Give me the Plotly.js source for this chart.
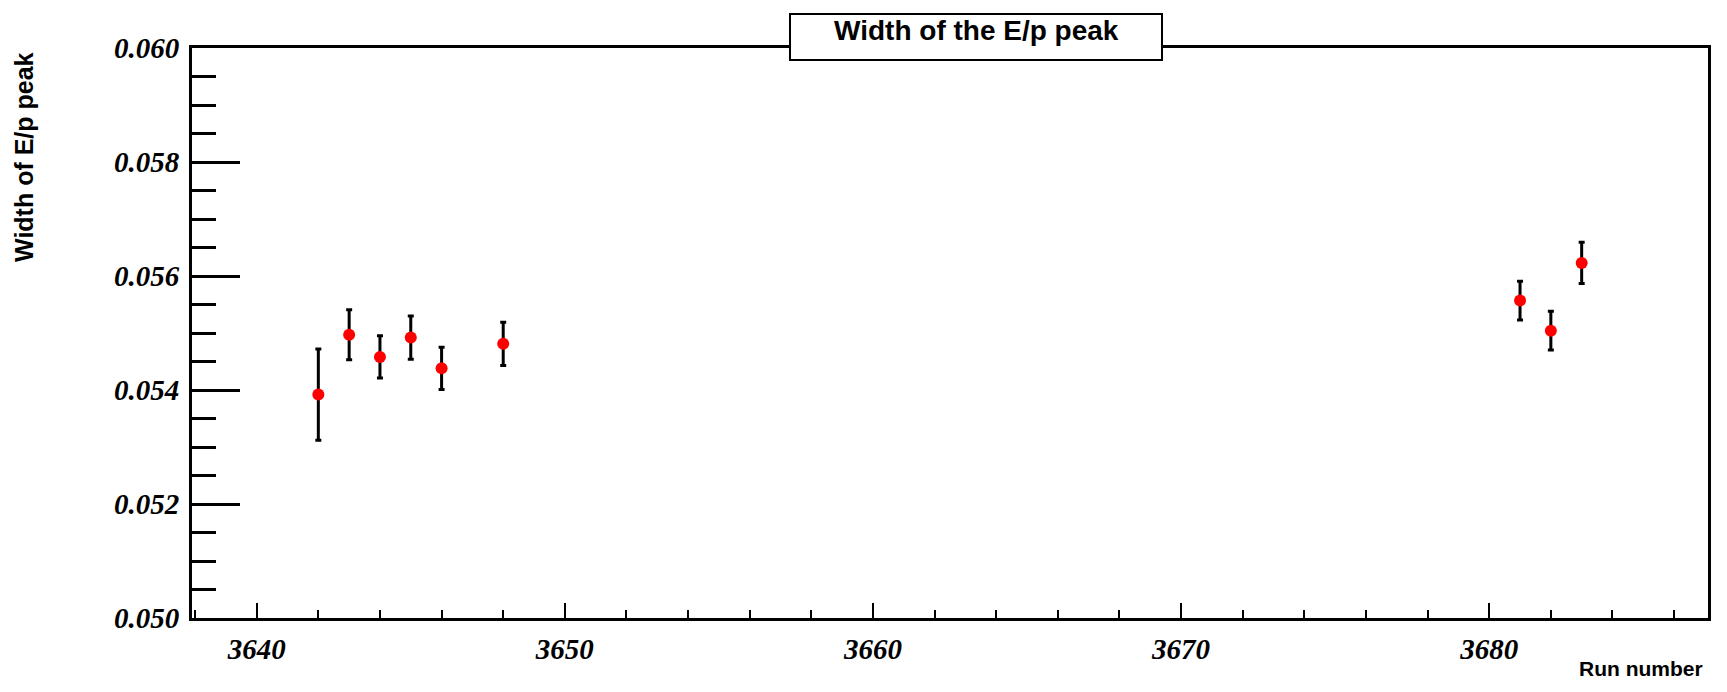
<!DOCTYPE html>
<html>
<head>
<meta charset="utf-8">
<script src="https://cdn.plot.ly/plotly-3.0.1.min.js"></script>
<style>
  html, body { margin: 0; padding: 0; background: #ffffff; }
  #chart { width: 1727px; height: 692px; }
</style>
</head>
<body>
<div id="chart"></div>
<script>
// Run numbers and fitted E/p peak width per run
const runs = [3642, 3643, 3644, 3645, 3646, 3648, 3681, 3682, 3683];
const peakWidth = [0.05392, 0.05497, 0.05458, 0.05492, 0.05438, 0.05481, 0.05557, 0.05504, 0.05623];
const peakWidthErr = [0.00080, 0.00044, 0.00037, 0.00038, 0.00037, 0.00038, 0.00034, 0.00034, 0.00036];

const chartTitle = 'Width of the E/p peak';
const xTitle = 'Run number';
const yTitle = 'Width of E/p peak';

// Frame geometry (pixels)
const W = 1727, H = 692;
const M = { l: 192, r: 19, t: 48, b: 74 };
const pw = W - M.l - M.r, ph = H - M.t - M.b;
const px = x => (x - M.l) / pw;          // pixel x -> paper x
const py = y => (H - M.b - y) / ph;      // pixel y -> paper y

const tickFont = { family: 'Liberation Serif', size: 29, color: '#000', weight: 'bold', style: 'italic' };
const labelFont = { family: 'Liberation Sans', color: '#000', weight: 'bold' };

const trace = {
  type: 'scatter',
  mode: 'markers',
  x: runs,
  y: peakWidth,
  marker: { color: '#ff0000', size: 12, line: { width: 0 } },
  error_y: {
    type: 'data',
    array: peakWidthErr,
    visible: true,
    color: '#000000',
    thickness: 3,
    width: 3
  },
  hoverinfo: 'x+y'
};

const layout = {
  width: W,
  height: H,
  margin: M,
  paper_bgcolor: '#ffffff',
  plot_bgcolor: '#ffffff',
  showlegend: false,
  xaxis: {
    range: [3637.9, 3687.1],
    tick0: 3640,
    dtick: 10,
    ticks: 'inside',
    ticklen: 15,
    tickwidth: 2,
    tickcolor: '#000',
    minor: { dtick: 2, tick0: 3640, ticks: 'inside', ticklen: 8, tickwidth: 2, tickcolor: '#000', showgrid: false },
    showline: true,
    linecolor: '#000',
    linewidth: 3,
    mirror: true,
    showgrid: false,
    zeroline: false,
    tickfont: tickFont,
    ticklabelstandoff: 3
  },
  yaxis: {
    range: [0.050, 0.060],
    tick0: 0.050,
    dtick: 0.002,
    tickformat: '.3f',
    ticks: 'inside',
    ticklen: 48,
    tickwidth: 3,
    tickcolor: '#000',
    minor: { dtick: 0.0005, tick0: 0.050, ticks: 'inside', ticklen: 24, tickwidth: 3, tickcolor: '#000', showgrid: false },
    showline: true,
    linecolor: '#000',
    linewidth: 3,
    mirror: true,
    showgrid: false,
    zeroline: false,
    tickfont: tickFont,
    ticklabelstandoff: 4
  },
  shapes: [
    {
      type: 'rect', xref: 'paper', yref: 'paper', layer: 'above',
      x0: px(790), x1: px(1162), y0: py(60), y1: py(14),
      fillcolor: '#ffffff',
      line: { color: '#000', width: 2 }
    }
  ],
  annotations: [
    {
      text: chartTitle, xref: 'paper', yref: 'paper',
      x: px(976), y: py(31), xanchor: 'center', yanchor: 'middle',
      showarrow: false,
      font: Object.assign({ size: 28 }, labelFont)
    },
    {
      text: yTitle, xref: 'paper', yref: 'paper',
      x: px(24), y: py(50), xanchor: 'center', yanchor: 'top',
      textangle: -90, showarrow: false,
      font: Object.assign({ size: 25 }, labelFont)
    },
    {
      text: xTitle, xref: 'paper', yref: 'paper',
      x: px(1705), y: py(668), xanchor: 'right', yanchor: 'middle',
      showarrow: false,
      font: Object.assign({ size: 21 }, labelFont)
    }
  ]
};

Plotly.newPlot('chart', [trace], layout, { displayModeBar: false, staticPlot: true });
</script>
</body>
</html>
